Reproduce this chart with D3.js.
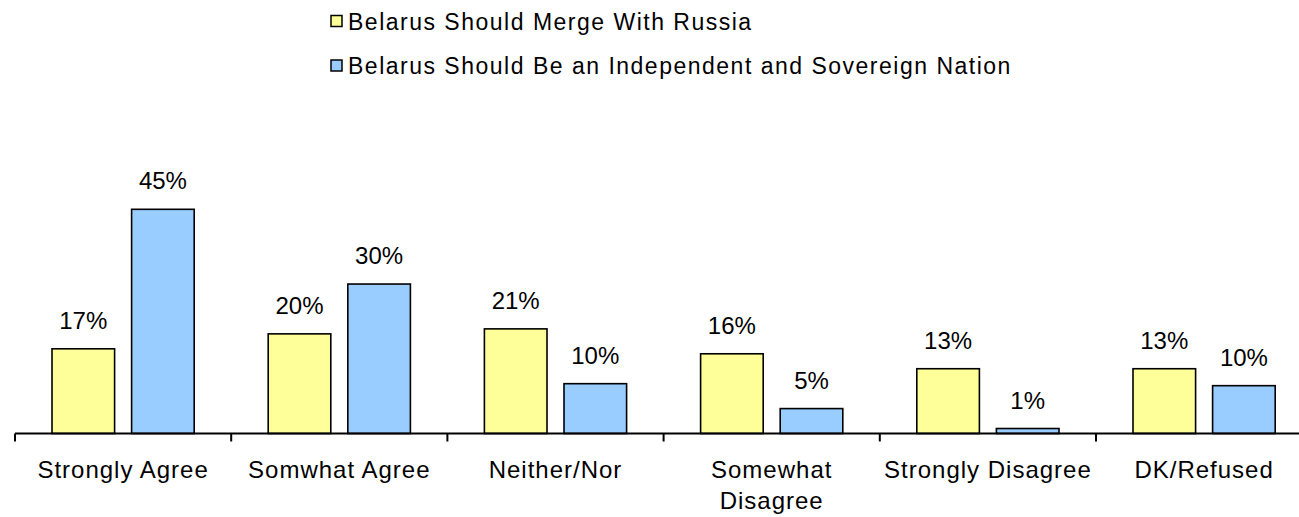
<!DOCTYPE html>
<html>
<head>
<meta charset="utf-8">
<script src="https://cdn.jsdelivr.net/npm/d3@7"></script>
<style>
  html, body { margin: 0; padding: 0; background: #fff; }
  svg { display: block; font-family: Arial, "Liberation Sans", sans-serif; }
</style>
</head>
<body>
<svg id="chart" width="1299" height="517"></svg>
<script>
const categories = [
  ["Strongly Agree"],
  ["Somwhat Agree"],
  ["Neither/Nor"],
  ["Somewhat", "Disagree"],
  ["Strongly Disagree"],
  ["DK/Refused"]
];
const seriesNames = [
  "Belarus Should Merge With Russia",
  "Belarus Should Be an Independent and Sovereign Nation"
];
const mergeValues = [17, 20, 21, 16, 13, 13];
const independentValues = [45, 30, 10, 5, 1, 9.6];
const seriesColors = ["#FFFF99", "#99CCFF"];

const svg = d3.select("#chart");
const catKeys = categories.map(c => c.join(" "));
const data = catKeys.map((k, i) => ({
  key: k, lines: categories[i],
  vals: [
    { s: 0, v: mergeValues[i] },
    { s: 1, v: independentValues[i] }
  ]
}));

const x0 = d3.scaleBand().domain(catKeys).range([15, 1312.2]).paddingInner(0).paddingOuter(0);
const x1 = d3.scaleBand().domain([0, 1]).range([37, x0.bandwidth() - 37]).paddingInner(0.2136).paddingOuter(0);
const y = d3.scaleLinear().domain([0, 50]).range([433.5, 184.4]);
const fmt = v => Math.round(v) + "%";

const g = svg.append("g");
const groups = g.selectAll("g.cat").data(data).join("g")
  .attr("class", "cat")
  .attr("transform", d => `translate(${x0(d.key)},0)`);

groups.selectAll("rect").data(d => d.vals).join("rect")
  .attr("x", d => x1(d.s))
  .attr("width", x1.bandwidth())
  .attr("y", d => y(d.v))
  .attr("height", d => y(0) - y(d.v))
  .attr("fill", d => seriesColors[d.s])
  .attr("stroke", "#000")
  .attr("stroke-width", 1.6);

groups.selectAll("text.val").data(d => d.vals).join("text")
  .attr("class", "val")
  .attr("x", d => x1(d.s) + x1.bandwidth() / 2)
  .attr("y", d => y(d.v) - 20)
  .attr("text-anchor", "middle")
  .attr("font-size", 24)
  .attr("fill", "#000")
  .text(d => fmt(d.v));

// axis
const axis = d3.axisBottom(x0).tickSize(0).tickFormat("");
const axG = svg.append("g").attr("transform", `translate(0,${y(0)})`).call(axis);
axG.select(".domain").attr("stroke", "#000").attr("stroke-width", 2).attr("d", `M15,0H1312`);
axG.selectAll(".tick").remove();
const tickPos = catKeys.map(k => x0(k)).concat([x0.range()[1]]);
axG.selectAll("line.tk").data(tickPos).join("line")
  .attr("class", "tk")
  .attr("x1", d => d).attr("x2", d => d)
  .attr("y1", 0).attr("y2", 8)
  .attr("stroke", "#000").attr("stroke-width", 2);

// category labels
const labels = svg.append("g").selectAll("text").data(data).join("text")
  .attr("x", d => x0(d.key) + x0.bandwidth() / 2)
  .attr("y", 478)
  .attr("text-anchor", "middle")
  .attr("font-size", 24)
  .attr("letter-spacing", 1)
  .attr("fill", "#000");
labels.selectAll("tspan").data(d => d.lines).join("tspan")
  .attr("x", function() { return d3.select(this.parentNode).attr("x"); })
  .attr("dy", (d, i) => i === 0 ? 0 : 31)
  .text(d => d);

// legend
const leg = svg.append("g").selectAll("g").data(seriesNames).join("g")
  .attr("transform", (d, i) => `translate(331,${15.5 + i * 44.5})`);
leg.append("rect")
  .attr("width", 11).attr("height", 11)
  .attr("fill", (d, i) => seriesColors[i])
  .attr("stroke", "#000").attr("stroke-width", 1.5);
leg.append("text")
  .attr("x", 17).attr("y", 14)
  .attr("font-size", 23)
  .attr("letter-spacing", 1.5)
  .attr("fill", "#000")
  .text(d => d);
</script>
</body>
</html>
